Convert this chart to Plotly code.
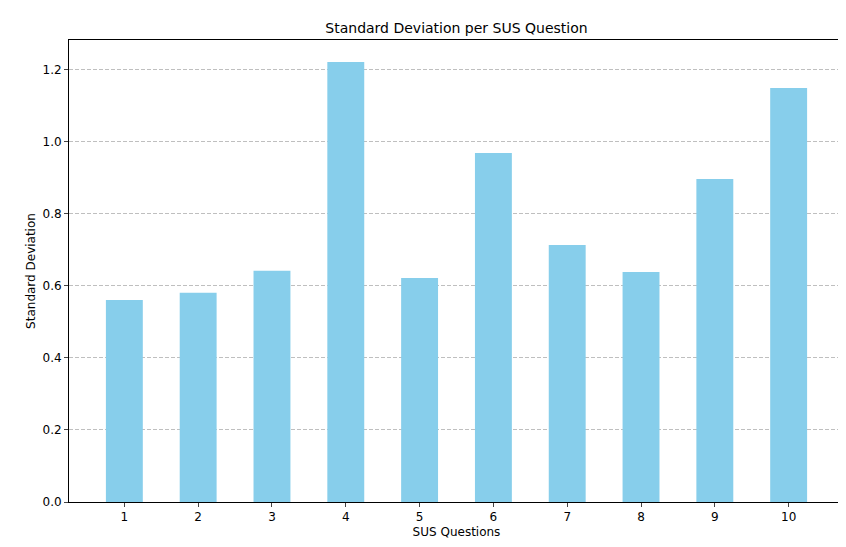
import plotly.graph_objects as go

questions = [1, 2, 3, 4, 5, 6, 7, 8, 9, 10]
std_devs = [0.561, 0.581, 0.642, 1.222, 0.622, 0.969, 0.714, 0.639, 0.897, 1.150]

fig = go.Figure(go.Bar(x=questions, y=std_devs, width=0.5, marker=dict(color='skyblue', line=dict(width=0))))

fig.update_layout(
    width=846, height=547,
    margin=dict(l=61, r=10, t=32, b=53, autoexpand=False),
    plot_bgcolor='white', paper_bgcolor='white',
    font=dict(family='DejaVu Sans', size=12, color='black'),
    title=dict(text='Standard Deviation per SUS Question', x=0.5, xref='paper', y=0.955, yanchor='bottom', font=dict(size=14)),
    showlegend=False,
)
fig.update_xaxes(
    title=dict(text='SUS Questions', standoff=4, font=dict(size=12)), tickvals=questions, range=[0.25, 10.75],
    showline=True, linecolor='black', mirror=True, ticks='outside', ticklen=4, showgrid=False, automargin=False,
)
fig.update_yaxes(
    title=dict(text='Standard Deviation', standoff=4, font=dict(size=12)), range=[0, 1.283], dtick=0.2, tickformat='.1f',
    showline=True, linecolor='black', mirror=True, ticks='outside', ticklen=4, automargin=False,
    showgrid=True, gridcolor='rgba(0,0,0,0.25)', griddash='4px,2px', zeroline=False,
)

fig.write_html("out.html")
